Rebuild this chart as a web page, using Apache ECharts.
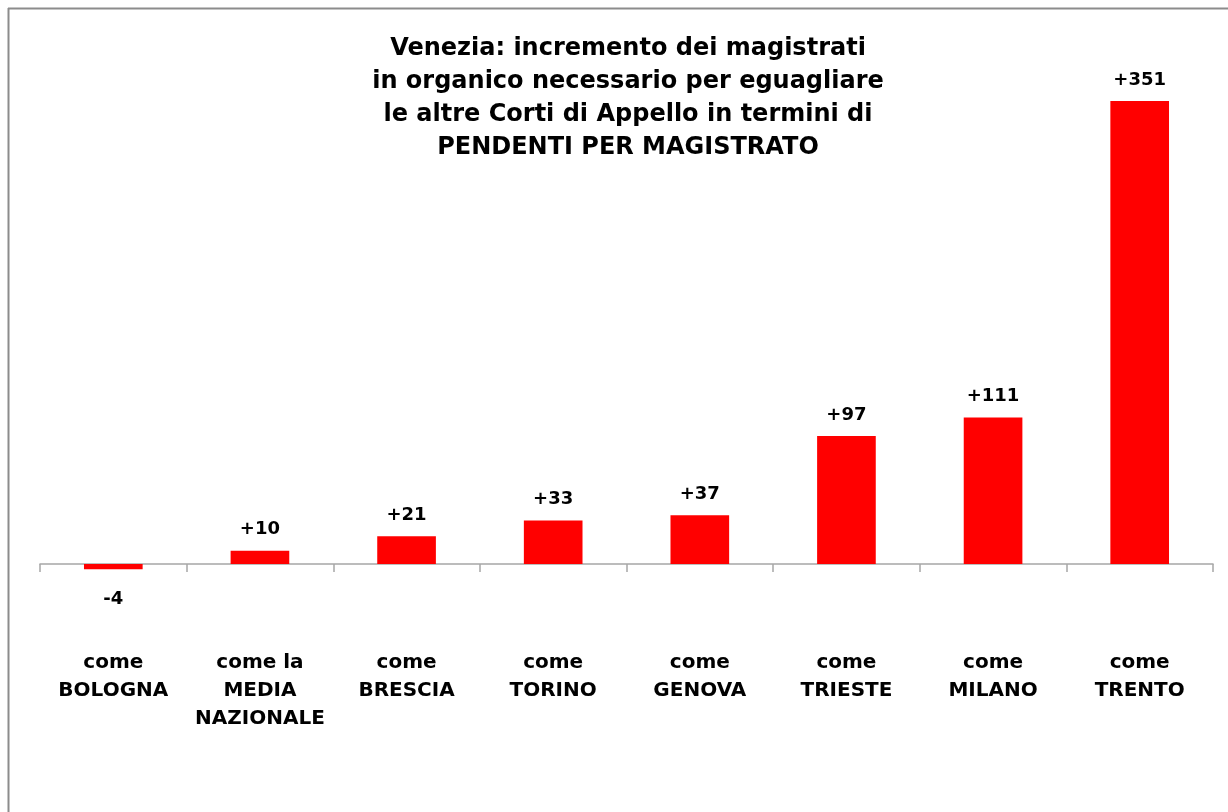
<!DOCTYPE html>
<html>
<head>
<meta charset="utf-8">
<title>Venezia - incremento magistrati</title>
<script src="https://cdn.jsdelivr.net/npm/echarts@6/dist/echarts.min.js"></script>
<style>
  html, body { margin: 0; padding: 0; background: #fff; }
  #container { width: 1228px; height: 812px; }
</style>
</head>
<body>
<div id="container"></div>
<script type="text/javascript">
    // categorie (asse x)
    var categorie = ['come\nBOLOGNA', 'come la\nMEDIA\nNAZIONALE', 'come\nBRESCIA', 'come\nTORINO',
        'come\nGENOVA', 'come\nTRIESTE', 'come\nMILANO', 'come\nTRENTO'];
    // incremento magistrati
    var incremento = [-4, 10, 21, 33, 37, 97, 111, 351];

    var titolo = 'Venezia: incremento dei magistrati\nin organico necessario per eguagliare\nle altre Corti di Appello in termini di\nPENDENTI PER MAGISTRATO';

    var font = 'DejaVu Sans';

    var dati = [];
    for (var i = 0; i < incremento.length; i++) {
        var v = incremento[i];
        var item = { value: v };
        if (v < 0) {
            item.label = { position: 'bottom', distance: 21 };
        }
        dati.push(item);
    }

    var mychart = echarts.init(document.getElementById('container'));
    var options = {
        backgroundColor: '#ffffff',
        animation: false,
        title: {
            text: titolo,
            left: 623,
            top: 27,
            textAlign: 'center',
            textStyle: {
                fontFamily: font,
                fontWeight: 'bold',
                fontSize: 24,
                lineHeight: 33,
                color: '#000'
            }
        },
        graphic: [
            { type: 'line', shape: { x1: 8, y1: 8.5, x2: 1228, y2: 8.5 }, style: { stroke: '#8c8c8c', lineWidth: 2 } },
            { type: 'line', shape: { x1: 8.5, y1: 8, x2: 8.5, y2: 812 }, style: { stroke: '#8c8c8c', lineWidth: 2 } }
        ],
        // il fondo della griglia coincide con lo zero (y = 564)
        grid: { left: 40, right: 15, top: 36.4, bottom: 248, outerBoundsMode: 'none', containLabel: false },
        xAxis: [{
            type: 'category',
            data: categorie,
            axisLine: { onZero: false, lineStyle: { color: '#a6a6a6', width: 1.5 } },
            axisTick: { show: true, length: 8, interval: 0, lineStyle: { color: '#a6a6a6', width: 1.5 } },
            axisLabel: {
                interval: 0,
                margin: 85,
                fontFamily: font,
                fontWeight: 'bold',
                fontSize: 20,
                lineHeight: 28,
                color: '#000',
                verticalAlign: 'top'
            }
        }],
        yAxis: [{
            type: 'value',
            min: 0,
            max: 400,
            show: false,
            splitLine: { show: false }
        }],
        series: [{
            type: 'bar',
            data: dati,
            barWidth: '40%',
            clip: false,
            itemStyle: { color: '#ff0000' },
            label: {
                show: true,
                position: 'top',
                distance: 12,
                fontFamily: font,
                fontWeight: 'bold',
                fontSize: 18,
                color: '#000',
                formatter: function (p) {
                    return p.value > 0 ? '+' + p.value : '' + p.value;
                }
            }
        }]
    };
    mychart.setOption(options);
</script>
</body>
</html>
